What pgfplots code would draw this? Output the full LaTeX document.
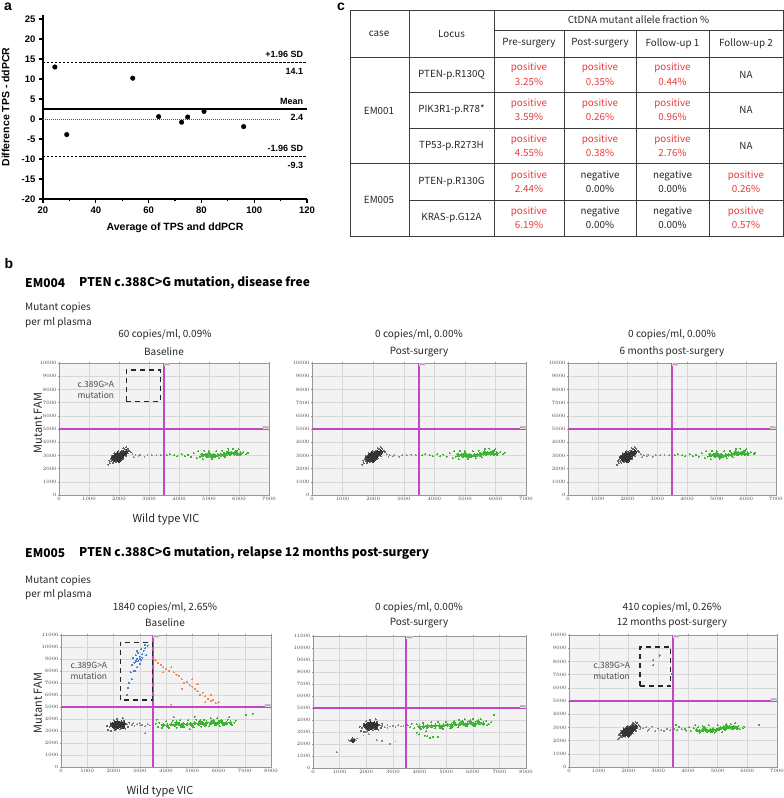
\documentclass[border=0pt]{standalone}
\usepackage{pgfplots}
\pgfplotsset{compat=1.18}
\usepackage{pgfplotstable}
\usepackage{fontspec}
\setmainfont{Liberation Sans}
\newfontfamily\cjk{Noto Sans CJK SC}

\definecolor{thrmag}{RGB}{196,70,196}
\definecolor{gcol}{RGB}{60,178,50}
\definecolor{bcol}{RGB}{70,130,205}
\definecolor{ocol}{RGB}{240,140,80}
\definecolor{bgc}{RGB}{243,243,243}
\definecolor{grd}{RGB}{215,215,215}
\definecolor{frm}{RGB}{150,150,150}
\definecolor{posred}{RGB}{232,58,58}
\definecolor{tline}{RGB}{60,60,60}

% ---------- panel a ----------
\pgfplotstableread{
avg diff
24.5 13.0
29.0 -3.9
54.0 10.2
63.8 0.6
72.5 -0.8
74.8 0.5
81.0 1.9
96.0 -1.9
}\blandaltman

% ---------- EM004 (row 1) ----------
\pgfplotstableread{
x y
1850 2650
1950 2700
2000 2600
1800 2850
1900 2850
2000 2850
2100 2900
1900 3000
2000 3000
2100 3050
2200 3100
1950 3150
2050 3150
2150 3250
2250 3300
1850 2950
2050 2750
}\rAgcore
\pgfplotstableread{
x y
1700 2400
1650 2300
1750 2550
1720 2700
1800 2450
1900 2500
1760 2950
1850 3150
2150 2750
2250 2950
2300 3150
2350 3350
2300 3500
2200 3450
2100 3350
2400 3250
1980 3300
2250 3600
1680 2600
2150 3550
}\rAghalo
\pgfplotstableread{
x y
2450 3100
2550 3000
2650 2950
2700 3050
2850 2900
2950 3000
3100 3000
3250 3050
3400 3000
2500 2850
}\rAgtrail
\pgfplotstableread{
x y
3600 3000
3700 3100
3850 3000
3950 2950
4100 3100
4200 2950
4300 3050
4400 2900
4500 3150
4600 2800
4650 3300
4750 3100
4800 2700
4850 3350
5000 3300
5100 2750
5250 3300
5350 2800
5450 3350
5550 2850
5650 3500
5800 3500
5950 3350
6050 3000
6150 3250
6250 3100
6300 3200
4700 2900
5500 3200
6000 3450
}\rAvhalo
\pgfplotstableread{
x y
4800 3000
4900 3050
4950 2950
5050 3000
5150 3050
5200 2950
5300 3000
5400 3050
5500 3050
5600 3150
5650 3250
5700 3100
5750 3200
5850 3150
5900 3250
5950 3100
6050 3150
5000 3150
5100 2900
}\rAvcore

% ---------- EM005 baseline / post ----------
\pgfplotstableread{
x y
2000 3400
2100 3300
2100 3500
2200 3400
2200 3600
2300 3500
2300 3700
2400 3600
2050 3650
2150 3750
2350 3350
1950 3550
}\rBgcore
\pgfplotstableread{
x y
1800 3100
1850 3350
1900 3650
1900 3000
2000 3900
2150 4000
2400 3850
2500 3550
2550 3350
2450 3200
2250 3150
1750 3450
2600 3700
2050 3100
2350 4050
}\rBghalo
\pgfplotstableread{
x y
2700 3500
2800 3400
2900 3550
3000 3450
3100 3500
3200 3400
3300 3550
3400 3450
2750 3650
3200 2800
3000 3650
}\rBgtrail
\pgfplotstableread{
x y
3900 3500
4050 3450
4200 3550
4350 3500
4500 3550
4650 3600
4800 3550
4950 3600
5100 3650
5250 3600
5400 3650
5550 3700
5700 3650
5850 3700
6000 3700
6150 3700
6300 3650
6450 3700
4600 3400
5000 3450
5500 3500
5900 3550
6200 3550
5300 3800
5800 3850
6100 3850
4400 3700
}\rBvcore
\pgfplotstableread{
x y
3600 3600
3700 3350
3750 3700
3850 3250
4000 3800
4100 3250
4250 3850
4400 3250
4550 3900
4700 3300
4850 3900
5050 3300
5150 3950
5350 3350
5450 3950
5650 3400
5700 4050
5950 4050
6050 3400
6350 3950
6500 3500
6600 3700
6650 3850
7050 4350
7300 4450
4300 4150
5100 4200
3650 3950
4900 3150
6400 4150
}\rBvhalo
\pgfplotstableread{
x y
2500 6000
2550 6600
2600 7000
2700 7300
2650 7900
2800 8000
2900 8300
2700 8500
2800 8700
3000 8600
2950 8800
2750 9100
2900 9000
3050 8900
3100 9100
3000 9200
2850 9300
3250 9300
3100 9400
2950 9500
3150 9700
3050 9800
3200 9900
3300 10100
3200 10200
2900 9700
3000 9000
2850 8850
}\rBfam
\pgfplotstableread{
x y
3600 8900
3700 8700
3800 8500
3900 8300
4000 8200
4100 8000
4200 8300
4300 7900
4400 7700
4500 7600
4600 7300
4700 7000
4800 7100
4900 6800
5000 6700
5100 6500
5200 6300
5300 6000
5400 6200
5500 5900
5600 5700
5700 5500
5800 5600
5900 5300
6000 5400
4200 5200
4600 6500
5200 6900
3900 7900
5500 5400
5700 6000
5000 7300
}\rBdbl
\pgfplotstableread{
x y
1450 2300
1550 2300
1500 2400
1500 2200
}\rCsmallcore
\pgfplotstableread{
x y
1400 2200
1450 2450
1550 2450
1600 2300
1650 2450
1350 2300
2600 3500
2700 3400
2800 3550
2900 3450
3000 3500
3100 3400
3200 3550
3300 3450
3400 3500
2100 2800
2000 3000
2400 2300
2600 2250
2900 2000
3100 2200
900 1300
1900 2700
2800 3300
}\rCgtrail
\pgfplotstableread{
x y
4000 3450
4150 3450
4300 3500
4450 3500
4600 3550
4750 3550
4900 3550
5050 3600
5200 3600
5350 3650
5500 3650
5650 3700
5800 3700
5950 3750
6100 3700
6250 3750
6400 3700
5600 3850
5900 3900
6200 3900
5750 3550
6050 3550
5300 3800
4800 3400
5200 3450
}\rCvcore
\pgfplotstableread{
x y
3550 3550
3650 3400
3700 3700
3800 3300
3900 3650
4050 3250
4150 3750
4300 3300
4450 3800
4600 3300
4700 3850
4900 3250
5000 3850
5150 3300
5450 3400
5500 4000
5700 4050
6000 4100
6300 4050
6500 3900
6600 3650
6700 3800
6800 4450
4000 2800
4200 2700
4300 2650
4400 2500
4500 2600
4700 2600
3900 2950
6550 3550
4250 3050
}\rCvhalo

% ---------- EM005 12 months ----------
\pgfplotstableread{
x y
1850 2450
1950 2500
2000 2400
1800 2650
1900 2650
2000 2650
2100 2700
1900 2800
2000 2800
2100 2850
2200 2900
1950 2950
2050 2950
2150 3050
2250 3100
1850 2750
2050 2550
}\rDgcore
\pgfplotstableread{
x y
1700 2200
1650 2100
1750 2350
1720 2500
1800 2250
1900 2300
1760 2750
1850 2950
2150 2550
2250 2750
2300 2950
2350 3150
2300 3300
2200 3250
2100 3150
2400 3050
1980 3100
2250 3400
1680 2400
2150 3350
}\rDghalo
\pgfplotstableread{
x y
2400 2850
2500 2950
2600 3000
2700 2850
2800 3050
2900 2700
3000 2900
3100 2800
3200 2750
3300 2900
3400 2800
2650 2750
}\rDgtrail
\pgfplotstableread{
x y
4300 2800
4400 2750
4500 2800
4600 2850
4650 2750
4750 2800
4850 2850
4950 2800
5050 2900
5100 2950
5200 3000
5250 2900
5350 3000
5400 3050
5500 2950
5550 3050
5650 2950
4550 2950
4800 2700
5300 3100
}\rDvcore
\pgfplotstableread{
x y
3550 2900
3650 2800
3700 3050
3800 2850
3900 2900
3950 2750
4050 3000
4100 2700
4200 2950
4250 3150
4400 2600
4500 3100
4700 3150
4900 2600
5000 3150
5150 2650
5300 3250
5450 3250
5600 3300
5700 3100
5750 2850
5850 2950
5900 3050
4350 3000
6400 3200
3600 3200
}\rDvhalo
\pgfplotstableread{
x y
2830 8100
3060 8450
2830 7700
3470 7050
}\rDfam

\pgfplotsset{
  ddpcr/.style={scale only axis, axis background/.style={fill=bgc},
    xmin=0, ymin=0, xtick distance=1000, ytick distance=1000,
    grid=major, grid style={draw=grd, line width=0.3pt},
    axis line style={draw=frm, line width=0.5pt},
    tick align=outside, major tick length=1.2pt, tick style={draw=frm, line width=0.3pt},
    ticklabel style={font=\fontsize{3}{3.5}\selectfont, text=black!75, inner sep=1pt},
    scaled ticks=false, /pgf/number format/1000 sep={}},
  gcore/.style={only marks, mark=*, mark size=1.9pt, color=black!80, mark options={line width=0pt}},
  ghalo/.style={only marks, mark=*, mark size=0.5pt, color=black!60, mark options={line width=0pt}},
  gtrail/.style={only marks, mark=*, mark size=0.4pt, color=black!45, mark options={line width=0pt}},
  vcore/.style={only marks, mark=*, mark size=1.6pt, color=gcol, mark options={line width=0pt}},
  vhalo/.style={only marks, mark=*, mark size=0.5pt, color=gcol, mark options={line width=0pt}},
  fam/.style={only marks, mark=*, mark size=0.55pt, color=bcol, mark options={line width=0pt}},
  dbl/.style={only marks, mark=*, mark size=0.55pt, color=ocol, mark options={line width=0pt}},
  thrline/.style={no marks, draw=thrmag, color=thrmag, line width=1.6pt},
}

\newcommand\thresh[2]{%
  \addplot[thrline] coordinates {(3500,0) (3500,#2)};
  \addplot[thrline] coordinates {(0,5000) (#1,5000)};
  \node[anchor=north west, inner sep=0.3pt, fill=black!12, text=black!70, font=\fontsize{2.5}{3}\selectfont] at (axis cs:3500,#2) {3500};
  \node[anchor=south east, inner sep=0.3pt, fill=black!12, text=black!70, font=\fontsize{2.5}{3}\selectfont] at (axis cs:#1,5000) {5000};
}
\newcommand\mutbox[4]{%
  \draw[black!85, line width=1.1pt, dash pattern=on 5pt off 4pt] (axis cs:#1,#2) rectangle (axis cs:#3,#4);
}
\newcommand\mutlabel[2]{%
  \node[anchor=west, align=left, font=\cjk\fontsize{8.5}{11}\selectfont, text=black!70] at (axis cs:#1,#2) {c.389G>A\\mutation};
}

\begin{document}
\begin{tikzpicture}[x=1pt,y=1pt]
\useasboundingbox (0,0) rectangle (784,798);

% ===================== panel a =====================
\node[font=\bfseries\fontsize{14}{16}\selectfont] at (8,791) {a};
\begin{axis}[at={(43pt,599pt)}, anchor=south west, scale only axis,
  width=264pt, height=184pt,
  xmin=20, xmax=120, ymin=-20, ymax=26,
  axis lines*=left, axis line style={line width=1.3pt},
  xtick={20,40,...,120}, minor xtick={30,50,...,110}, ytick={-20,-15,...,25},
  tick align=outside, major tick length=4pt, minor tick length=2.5pt,
  tick style={line width=1.1pt, black},
  ticklabel style={font=\bfseries\fontsize{9.5}{11}\selectfont},
  /pgf/number format/assume math mode=true,
  xlabel={Average of TPS and ddPCR}, ylabel={Difference TPS - ddPCR},
  label style={font=\bfseries\fontsize{10.5}{12}\selectfont},
  xlabel style={at={(axis description cs:0.5,-0.157)}, anchor=center},
  ylabel style={at={(axis description cs:-0.142,0.5)}, anchor=center},
  clip=false]
\addplot[black, line width=0.5pt, dash pattern=on 2.5pt off 1.5pt] coordinates {(20,14.1) (120,14.1)};
\addplot[black, line width=0.5pt, dash pattern=on 2.5pt off 1.5pt] coordinates {(20,-9.3) (120,-9.3)};
\addplot[black!70, line width=0.5pt, dash pattern=on 1pt off 1pt] coordinates {(20,0) (110,0)};
\addplot[black, line width=1.8pt] coordinates {(20,2.4) (120,2.4)};
\addplot[only marks, mark=*, mark size=2.3pt, black] table[x=avg, y=diff] {\blandaltman};
\begin{scope}[font=\bfseries\fontsize{9}{10}\selectfont, inner sep=1pt]
\node[anchor=east] at (axis cs:119,16.2) {+1.96 SD};
\node[anchor=east] at (axis cs:119,12.0) {14.1};
\node[anchor=east] at (axis cs:119,4.3) {Mean};
\node[anchor=east] at (axis cs:119,0.3) {2.4};
\node[anchor=east] at (axis cs:119,-7.4) {-1.96 SD};
\node[anchor=east] at (axis cs:119,-11.5) {-9.3};
\end{scope}
\end{axis}

% ===================== panel c (table) =====================
\node[font=\bfseries\fontsize{14}{16}\selectfont] at (341,791) {c};
\begin{scope}[draw=tline, line width=0.7pt]
\draw (350,788) rectangle (783,562);
\draw (494,768) -- (783,768);
\draw (350,741) -- (783,741);
\draw (409,706) -- (783,706);
\draw (409,670) -- (783,670);
\draw[line width=1pt] (350,634) -- (783,634);
\draw (409,598) -- (783,598);
\draw (409,788) -- (409,562);
\draw (494,788) -- (494,562);
\draw (564,768) -- (564,562);
\draw (636,768) -- (636,562);
\draw (709,768) -- (709,562);
\end{scope}
\begin{scope}[font=\cjk\fontsize{9.8}{14.5}\selectfont, align=center, text=black!85]
\node at (379,764.5) {case};
\node at (451.5,764.5) {Locus};
\node at (638.5,778) {CtDNA mutant allele fraction \%};
\node at (529,754.5) {Pre-surgery};
\node at (600,754.5) {Post-surgery};
\node at (672.5,754.5) {Follow-up 1};
\node at (746,754.5) {Follow-up 2};
\node at (379,687.5) {EM001};
\node at (379,598) {EM005};
\node at (451.5,723.5) {PTEN-p.R130Q};
\node at (451.5,688) {PIK3R1-p.R78*};
\node at (451.5,652) {TP53-p.R273H};
\node at (451.5,616) {PTEN-p.R130G};
\node at (451.5,580) {KRAS-p.G12A};
\node at (746,723.5) {NA};
\node at (746,688) {NA};
\node at (746,652) {NA};
\node at (600,616) {negative\\0.00\%};
\node at (672.5,616) {negative\\0.00\%};
\node at (600,580) {negative\\0.00\%};
\node at (672.5,580) {negative\\0.00\%};
\node[text=posred] at (529,723.5) {positive\\3.25\%};
\node[text=posred] at (600,723.5) {positive\\0.35\%};
\node[text=posred] at (672.5,723.5) {positive\\0.44\%};
\node[text=posred] at (529,688) {positive\\3.59\%};
\node[text=posred] at (600,688) {positive\\0.26\%};
\node[text=posred] at (672.5,688) {positive\\0.96\%};
\node[text=posred] at (529,652) {positive\\4.55\%};
\node[text=posred] at (600,652) {positive\\0.38\%};
\node[text=posred] at (672.5,652) {positive\\2.76\%};
\node[text=posred] at (529,616) {positive\\2.44\%};
\node[text=posred] at (746,616) {positive\\0.26\%};
\node[text=posred] at (529,580) {positive\\6.19\%};
\node[text=posred] at (746,580) {positive\\0.57\%};
\end{scope}

% ===================== panel b texts =====================
\node[font=\bfseries\fontsize{14}{16}\selectfont] at (9,534) {b};
\begin{scope}[font=\cjk\bfseries\fontsize{12}{14}\selectfont]
\node[anchor=west, inner sep=0] at (25,515) {EM004};
\node[anchor=west, inner sep=0] at (79,515) {PTEN c.388C>G mutation, disease free};
\node[anchor=west, inner sep=0] at (25,245) {EM005};
\node[anchor=west, inner sep=0] at (79,245) {PTEN c.388C>G mutation, relapse 12 months post-surgery};
\end{scope}
\begin{scope}[font=\cjk\fontsize{10}{12}\selectfont, text=black!85]
\node[anchor=west, inner sep=0] at (25,490) {Mutant copies};
\node[anchor=west, inner sep=0] at (25,475) {per ml plasma};
\node at (165,463) {60 copies/ml, 0.09\%};
\node at (164,446) {Baseline};
\node at (419,463) {0 copies/ml, 0.00\%};
\node at (419,446) {Post-surgery};
\node at (672,463) {0 copies/ml, 0.00\%};
\node at (672,446) {6 months post-surgery};
\node[anchor=west, inner sep=0] at (25,217) {Mutant copies};
\node[anchor=west, inner sep=0] at (25,203) {per ml plasma};
\node at (165,190) {1840 copies/ml, 2.65\%};
\node at (165,175) {Baseline};
\node at (419,190) {0 copies/ml, 0.00\%};
\node at (419,175) {Post-surgery};
\node at (672,190) {410 copies/ml, 0.26\%};
\node at (672,175) {12 months post-surgery};
\end{scope}
\begin{scope}[font=\cjk\fontsize{11}{13}\selectfont, text=black!85]
\node[rotate=90] at (38,375) {Mutant FAM};
\node at (166,279) {Wild type VIC};
\node[rotate=90] at (38,95) {Mutant FAM};
\node at (160,7) {Wild type VIC};
\end{scope}

% ===================== EM004 plots =====================
\begin{axis}[ddpcr, at={(59pt,303pt)}, anchor=south west, width=210pt, height=132pt, xmax=7000, ymax=10000]
\addplot[ghalo] table {\rAghalo};
\addplot[gcore] table {\rAgcore};
\addplot[gtrail] table {\rAgtrail};
\addplot[vhalo] table {\rAvhalo};
\addplot[vcore] table {\rAvcore};
\thresh{7000}{10000}
\mutbox{2240}{7100}{3380}{9470}
\mutlabel{500}{7950}
\end{axis}
\begin{axis}[ddpcr, at={(312pt,303pt)}, anchor=south west, width=214pt, height=132pt, xmax=7000, ymax=10000]
\addplot[ghalo] table {\rAghalo};
\addplot[gcore] table {\rAgcore};
\addplot[gtrail] table {\rAgtrail};
\addplot[vhalo] table {\rAvhalo};
\addplot[vcore] table {\rAvcore};
\thresh{7000}{10000}
\end{axis}
\begin{axis}[ddpcr, at={(568pt,303pt)}, anchor=south west, width=208pt, height=132pt, xmax=7000, ymax=10000]
\addplot[ghalo] table {\rAghalo};
\addplot[gcore] table {\rAgcore};
\addplot[gtrail] table {\rAgtrail};
\addplot[vhalo] table {\rAvhalo};
\addplot[vcore] table {\rAvcore};
\thresh{7000}{10000}
\end{axis}

% ===================== EM005 plots =====================
\begin{axis}[ddpcr, at={(61pt,31pt)}, anchor=south west, width=210pt, height=132pt, xmax=8000, ymax=11000]
\addplot[ghalo] table {\rBghalo};
\addplot[gcore] table {\rBgcore};
\addplot[gtrail] table {\rBgtrail};
\addplot[vhalo] table {\rBvhalo};
\addplot[vcore] table {\rBvcore};
\addplot[fam] table {\rBfam};
\addplot[dbl] table {\rBdbl};
\thresh{8000}{11000}
\mutbox{2250}{5580}{3470}{10400}
\mutlabel{230}{8000}
\end{axis}
\begin{axis}[ddpcr, at={(313pt,30pt)}, anchor=south west, width=213pt, height=132pt, xmax=8000, ymax=11000]
\addplot[ghalo] table {\rBghalo};
\addplot[gcore] table {\rBgcore};
\addplot[gcore, mark size=1.3pt] table {\rCsmallcore};
\addplot[gtrail] table {\rCgtrail};
\addplot[vhalo] table {\rCvhalo};
\addplot[vcore] table {\rCvcore};
\thresh{8000}{11000}
\end{axis}
\begin{axis}[ddpcr, at={(569pt,31pt)}, anchor=south west, width=208pt, height=132pt, xmax=7000, ymax=10000]
\addplot[ghalo] table {\rDghalo};
\addplot[gcore] table {\rDgcore};
\addplot[gtrail] table {\rDgtrail};
\addplot[vhalo] table {\rDvhalo};
\addplot[vcore] table {\rDvcore};
\addplot[fam] table {\rDfam};
\thresh{7000}{10000}
\mutbox{2390}{6140}{3430}{9090}
\mutlabel{700}{7270}
\end{axis}
\end{tikzpicture}
\end{document}
